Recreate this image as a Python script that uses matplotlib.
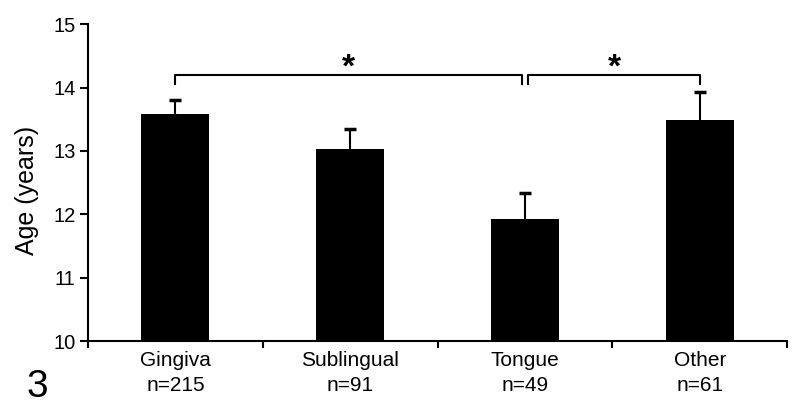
import matplotlib
matplotlib.use("Agg")
import matplotlib.pyplot as plt
import numpy as np

categories = ["Gingiva", "Sublingual", "Tongue", "Other"]
counts = ["n=215", "n=91", "n=49", "n=61"]
means = [13.58, 13.03, 11.92, 13.49]
errors = [0.22, 0.31, 0.42, 0.44]
yticks = [10, 11, 12, 13, 14, 15]

plt.rcParams['font.family'] = ['Liberation Sans', 'DejaVu Sans']

fig = plt.figure(figsize=(8, 4.17), dpi=100)
ax = fig.add_axes([0.11, 0.182, 0.874, 0.76])

x = np.arange(len(categories))
means_a = np.array(means)
err_a = np.array(errors)
ax.bar(x, means_a - 10, bottom=10, width=0.39, color="black", zorder=2)
ax.vlines(x, means_a, means_a + err_a, color="black", lw=1.5, zorder=3)
ax.plot(x, means_a + err_a, linestyle="none", marker="_", markersize=9,
        markeredgewidth=2.5, color="black", zorder=3)

ax.set_xlim(-0.5, 3.5)
ax.set_ylim(10, 15)
ax.set_yticks(yticks)
ax.set_yticklabels([str(t) for t in yticks], fontsize=14.5)
ax.set_xticks(x)
ax.set_xticklabels([f"{c}\n{n}" for c, n in zip(categories, counts)], fontsize=15,
                   linespacing=1.4)
ax.tick_params(axis="x", which="major", length=0, pad=7)
ax.set_xticks(np.arange(-0.5, 4, 1), minor=True)
ax.tick_params(axis="x", which="minor", length=5, width=1.5, direction="out")
ax.tick_params(axis="y", length=6, width=1.5, direction="out", pad=3)
for s in ["top", "right"]:
    ax.spines[s].set_visible(False)
for s in ["left", "bottom"]:
    ax.spines[s].set_linewidth(1.5)

fig.text(27 / 800, 1 - 190 / 417, "Age (years)", rotation=90, ha="center",
         va="center", fontsize=18)

# significance brackets
def bracket(x1, x2, y, h, label):
    ax.plot([x1, x1, x2, x2], [y - h, y, y, y - h], color="black", lw=1.5, clip_on=False)
    ax.text((x1 + x2) / 2, y - 0.02, label, ha="center", va="baseline",
            fontsize=24, fontweight="bold")

bracket(0, 1.98, 14.2, 0.15, "*")
bracket(2.02, 3, 14.2, 0.15, "*")

fig.text(27 / 800, 20 / 417, "3", fontsize=28, ha="left", va="baseline")

fig.savefig("out.png", dpi=100)
